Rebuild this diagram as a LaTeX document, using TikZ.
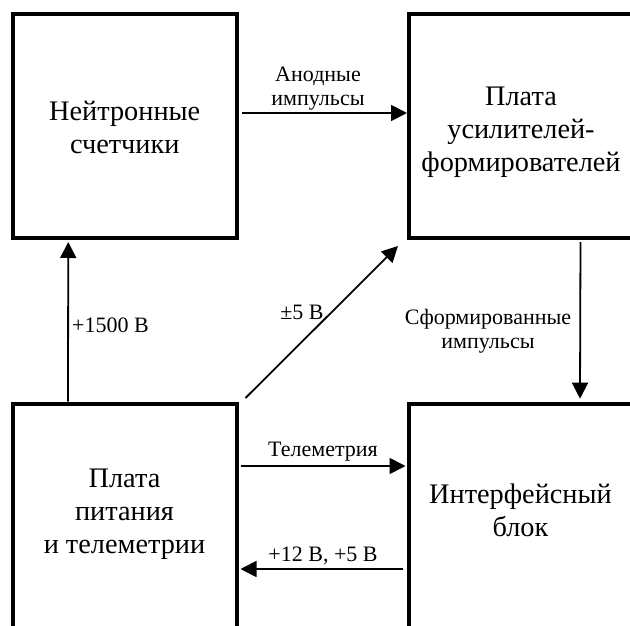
\documentclass[tikz,border=0pt]{standalone}
\usepackage{fontspec}
\setmainfont{Liberation Serif}
\usetikzlibrary{arrows.meta}
\begin{document}
\begin{tikzpicture}[x=1pt,y=-1pt,
  box/.style={draw,line width=4pt,minimum width=224pt,minimum height=224pt,inner sep=0pt},
  boxtxt/.style={align=center,inner sep=0pt,font=\fontsize{28.3}{33}\selectfont},
  arr/.style={line width=1.8pt,-{Triangle[length=16pt,width=16pt]}},
  lbl/.style={align=center,inner sep=0pt,font=\fontsize{22}{24}\selectfont}]
\useasboundingbox (0,0) rectangle (630,626);
\node[box] (b1) at (124.75,126) {};
\node[box] (b2) at (521,126) {};
\node[box] (b3) at (124.5,515.7) {};
\node[box] (b4) at (520.5,515.7) {};
\node[boxtxt] (t1) at ([yshift=-1.5pt]b1.center) {Нейтронные\\счетчики};
\node[boxtxt] (t2) at ([yshift=-6pt]b2.center) {Плата\\усилителей-\\формирователей};
\node[boxtxt] (t3) at ([yshift=1pt]b3.center) {Плата\\питания\\и телеметрии};
\node[boxtxt] (t4) at ([yshift=5.5pt]b4.center) {Интерфейсный\\блок};
% connectors
\draw[arr,shorten <=3.5pt] ([yshift=13pt]b1.east) -- ([yshift=13pt]b2.west);
\draw[arr] ([xshift=-56.5pt]b3.north) -- ([xshift=-56.5pt,yshift=-2pt]b1.south);
\draw[arr] ([shift={(7pt,3.7pt)}]b3.north east) -- ([shift={(-9pt,-6pt)}]b2.south west);
\draw[arr,shorten <=2pt] ([xshift=59.5pt]b2.south) -- ([xshift=59.5pt,yshift=3pt]b4.north);
\draw[arr,shorten <=2pt] ([yshift=49.7pt]b3.east) -- ([yshift=49.7pt,xshift=-1pt]b4.west);
\draw[arr,shorten <=4pt] ([yshift=-53.3pt]b4.west) -- ([yshift=-53.3pt,xshift=2pt]b3.east);
% labels
\node[lbl] (l1) at (318,89) {Анодные\\импульсы};
\node[lbl,anchor=west] (l2) at (72,325) {+1500 В};
\node[lbl] (l3) at (302,312) {±5 В};
\node[lbl] (l4) at (488,331) {Сформированные\\импульсы};
\node[lbl] (l5) at (323,452) {Телеметрия};
\node[lbl] (l6) at (323,556) {+12 В, +5 В};
\end{tikzpicture}
\end{document}
